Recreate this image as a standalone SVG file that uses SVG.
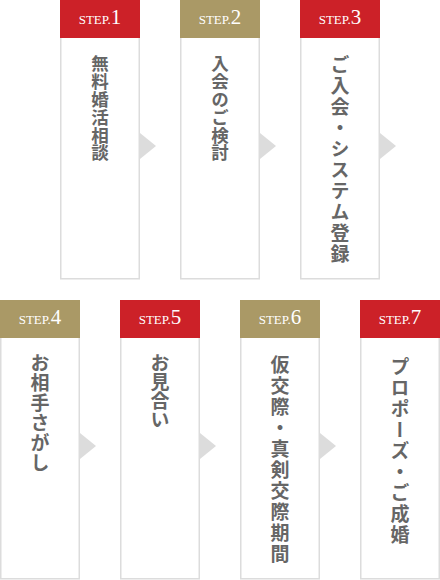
<svg xmlns="http://www.w3.org/2000/svg" width="440" height="580" viewBox="0 0 440 580">
<style>
.box{fill:#fff;stroke:#dcdcdc;stroke-width:1.5}
.red{fill:#cc2128}
.gold{fill:#aa9966}
.step{font-family:"Liberation Serif",serif;fill:#fff;text-anchor:middle}
.s{font-size:13px}
.n{font-size:21px}
.lbl{font-family:"Noto Sans CJK JP",sans-serif;font-size:19px;font-weight:700;fill:#666;writing-mode:vertical-rl;text-orientation:upright}
.t{font-size:17.5px;letter-spacing:0.3px}
.w{letter-spacing:2px}
.m{letter-spacing:1px}
.arr{fill:#dcdcdc}
</style>
<g id="connectors">
<polygon class="arr" points="140,133 156,146 140,159"/>
<polygon class="arr" points="260,133 276,146 260,159"/>
<polygon class="arr" points="380,133 396,146 380,159"/>
<polygon class="arr" points="80,433 96,446 80,459"/>
<polygon class="arr" points="200,433 216,446 200,459"/>
<polygon class="arr" points="320,433 336,446 320,459"/>
</g>
<g id="step1">
<rect class="box" x="60.75" y="0.75" width="78.5" height="278"/>
<rect class="red" x="60" y="0" width="80" height="38"/>
<text class="step" x="100" y="24"><tspan class="s">STEP.</tspan><tspan class="n">1</tspan></text>
<text class="lbl t" x="100" y="55">無料婚活相談</text>
</g>
<g id="step2">
<rect class="box" x="180.75" y="0.75" width="78.5" height="278"/>
<rect class="gold" x="180" y="0" width="80" height="38"/>
<text class="step" x="220" y="24"><tspan class="s">STEP.</tspan><tspan class="n">2</tspan></text>
<text class="lbl t" x="220" y="55">入会のご検討</text>
</g>
<g id="step3">
<rect class="box" x="300.75" y="0.75" width="78.5" height="278"/>
<rect class="red" x="300" y="0" width="80" height="38"/>
<text class="step" x="340" y="24"><tspan class="s">STEP.</tspan><tspan class="n">3</tspan></text>
<text class="lbl w" x="340" y="55">ご入会・システム登録</text>
</g>
<g id="step4">
<rect class="box" x="0.75" y="300.75" width="78.5" height="278"/>
<rect class="gold" x="0" y="300" width="80" height="38"/>
<text class="step" x="40" y="324"><tspan class="s">STEP.</tspan><tspan class="n">4</tspan></text>
<text class="lbl m" x="40" y="353">お相手さがし</text>
</g>
<g id="step5">
<rect class="box" x="120.75" y="300.75" width="78.5" height="278"/>
<rect class="red" x="120" y="300" width="80" height="38"/>
<text class="step" x="160" y="324"><tspan class="s">STEP.</tspan><tspan class="n">5</tspan></text>
<text class="lbl" x="160" y="353">お見合い</text>
</g>
<g id="step6">
<rect class="box" x="240.75" y="300.75" width="78.5" height="278"/>
<rect class="gold" x="240" y="300" width="80" height="38"/>
<text class="step" x="280" y="324"><tspan class="s">STEP.</tspan><tspan class="n">6</tspan></text>
<text class="lbl w" x="280" y="355">仮交際・真剣交際期間</text>
</g>
<g id="step7">
<rect class="box" x="360.75" y="300.75" width="78.5" height="278"/>
<rect class="red" x="360" y="300" width="80" height="38"/>
<text class="step" x="400" y="324"><tspan class="s">STEP.</tspan><tspan class="n">7</tspan></text>
<text class="lbl w" x="400" y="357">プロポーズ・ご成婚</text>
</g>
</svg>
